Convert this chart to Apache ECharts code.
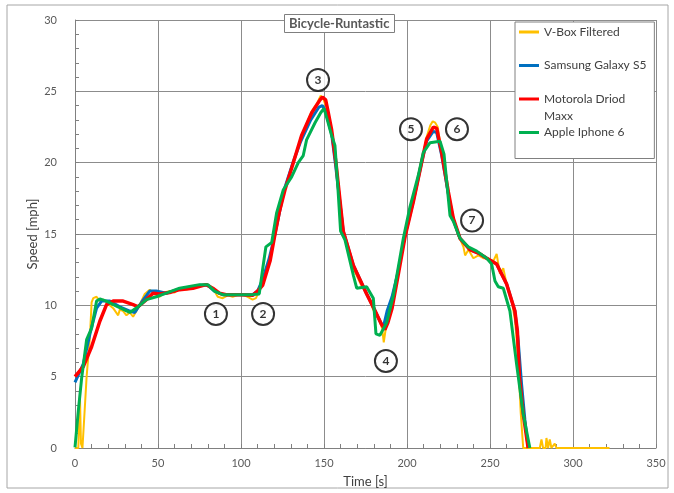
<!DOCTYPE html>
<html>
<head>
<meta charset="utf-8">
<title>Bicycle-Runtastic</title>
<script src="https://cdn.jsdelivr.net/npm/echarts@6/dist/echarts.min.js"></script>
<style>
  html, body { margin: 0; padding: 0; background: #fff; }
  #main { width: 674px; height: 493px; }
</style>
</head>
<body>
<div id="main"></div>
<script>
// time [s], speed [mph]
const vboxData = [
  [0, 0], [2, 0], [3, 3.5], [3.6, 0.3], [4.5, 0], [5.5, 2.0], [7, 5.0], [9, 7.8], [10, 10.2], [11, 10.5],
  [13, 10.6], [15, 10.3], [17, 10.4], [20, 10.1], [23, 9.8], [26, 9.3], [27, 9.7], [29, 9.6], [31, 9.3],
  [33, 9.5], [35, 9.2], [37, 9.6], [39, 10.05], [42, 10.8], [45, 11.1], [48, 10.8], [51, 10.6], [54, 10.9],
  [57, 11.0], [60, 10.9], [63, 11.2], [67, 11.1], [71, 11.2], [75, 11.4], [79, 11.5], [83, 11.2], [86, 10.6],
  [89, 10.5], [92, 10.7], [95, 10.6], [100, 10.8], [104, 10.6], [107, 10.4], [109, 10.5], [111, 11.0],
  [114, 12.0], [117, 13.2], [120.5, 15.0], [126, 18.0], [131.5, 20.0], [136.5, 21.9], [142.6, 23.6],
  [146, 24.2], [148, 24.7], [149.5, 24.5], [151, 24.0], [153, 23.3], [155, 22.0], [157.5, 19.8],
  [161.6, 15.3], [165, 13.5], [168, 12.5], [172, 11.5], [176, 10.8], [180, 9.6], [183, 9.0], [185, 8.4],
  [186, 7.4], [187, 8.2], [189, 9.4], [191, 10.6], [194.5, 12.4], [198.8, 14.8], [203.8, 17.3],
  [208.8, 20.0], [211.8, 21.8], [214, 22.6], [215.5, 22.9], [217, 22.8], [218.5, 22.5], [221, 20.6],
  [224.9, 17.9], [227.9, 16.0], [231, 14.9], [234, 14.1], [235, 13.5], [237, 13.9], [240, 13.3],
  [243, 13.5], [246, 13.3], [249, 13.3], [252, 13.1], [254, 13.6], [256, 12.2], [258, 12.6], [260, 11.5],
  [263, 10.4], [265, 9.0], [266.5, 7.0], [267.5, 5.0], [268.5, 2.5], [270, 0], [280, 0], [281, 0.6],
  [282, 0], [283.5, 0], [284, 0.7], [285, 0], [286, 0.6], [287, 0], [289, 0.3], [290, 0], [322, 0]
]

const samsungData = [
  [0, 4.6], [5, 5.9], [9, 8.0], [13, 9.8], [16, 10.3], [21, 10.3], [27, 9.9], [33, 9.6], [36, 9.5],
  [40, 10.2], [45, 11.0], [49, 11.0], [55, 10.85], [63, 11.15], [75, 11.4], [80, 11.4], [84, 11.0],
  [89, 10.75], [107, 10.75], [110, 11.0], [113, 11.8], [117, 13.3], [120.5, 15.0], [126, 18.1],
  [131, 19.9], [136, 21.5], [142, 23.0], [147, 23.9], [149, 24.0], [151, 23.6], [154.6, 22.0],
  [157, 19.8], [161.6, 15.2], [167.7, 12.8], [175.7, 10.8], [180, 9.8], [184.5, 8.7], [186, 8.6],
  [188, 9.6], [191, 10.6], [194.5, 12.3], [198.8, 14.9], [203.8, 17.3], [208.8, 20.0], [211.8, 21.5],
  [215.9, 22.2], [217.9, 22.1], [220.9, 20.5], [224.9, 17.8], [227.9, 16.0], [231.9, 14.7], [237.9, 13.9],
  [244, 13.6], [248, 13.3], [254, 12.9], [260, 11.5], [265, 9.6], [267, 7.5], [269, 4.5], [271, 2.0], [273, 0]
]

const motorolaData = [
  [0, 5.0], [5, 5.7], [10, 7.1], [15, 8.9], [19, 10.05], [23, 10.3], [29, 10.3], [35, 10.05], [38, 9.9],
  [43, 10.4], [47, 10.85], [51, 10.8], [57, 10.9], [63, 11.1], [71, 11.2], [79, 11.45], [83, 11.2],
  [87, 10.85], [91, 10.75], [100, 10.75], [107, 10.7], [110, 11.0], [113, 11.4], [117.5, 13.1],
  [120.5, 15.0], [123, 16.5], [126.5, 18.1], [131.5, 20.0], [136.5, 21.9], [142.6, 23.5], [147.6, 24.4],
  [149, 24.6], [151, 24.4], [152.6, 23.5], [154.6, 22.3], [157.2, 20.0], [161.6, 15.2], [167.7, 12.8],
  [175.7, 10.8], [180, 9.8], [184.7, 8.65], [186.7, 8.3], [188.5, 8.8], [191, 9.8], [194.5, 12.0],
  [198.8, 14.8], [203.8, 17.25], [208.8, 20.0], [211.8, 21.65], [215.9, 22.5], [217.9, 22.4],
  [220.9, 20.7], [224.9, 17.95], [227.9, 16.1], [231.9, 14.7], [237.9, 13.9], [244, 13.6], [248, 13.3],
  [254, 12.9], [260, 11.5], [265, 9.6], [266.5, 8.2], [267.7, 5.0], [270, 2.4], [273, 0]
]

const appleData = [
  [0, 0.05], [2, 2.6], [4, 4.9], [7, 7.6], [10, 8.4], [13, 10.3], [15, 10.45], [19, 10.3], [25, 9.95],
  [33, 9.5], [38, 9.9], [43, 10.4], [49, 10.6], [55, 10.85], [63, 11.2], [75, 11.45], [80, 11.45],
  [84, 11.0], [89, 10.75], [107, 10.75], [111, 10.8], [113, 12.5], [115, 14.1], [118.5, 14.4],
  [121.5, 16.5], [125.5, 18.1], [130.5, 19.0], [134.5, 20.0], [137.5, 20.5], [139.5, 21.6], [144.6, 22.8],
  [148, 23.5], [150, 23.8], [152, 23.0], [154.6, 21.9], [156.6, 21.2], [158.5, 18.0], [160, 15.2],
  [162.6, 14.6], [167.7, 12.1], [169.7, 11.2], [175.7, 11.3], [179.7, 10.5], [181.3, 8.0], [183.7, 7.9],
  [185.5, 8.3], [187.8, 8.8], [191.8, 10.7], [197.8, 14.7], [201.8, 16.9], [206.8, 19.1], [209.8, 20.7],
  [213.9, 21.4], [219.9, 21.5], [222.3, 20.6], [225.9, 16.3], [227.9, 15.9], [231.9, 14.7], [236.9, 14.1],
  [242, 13.8], [248, 13.3], [251, 12.9], [253, 11.7], [255, 11.3], [258, 11.2], [262, 9.6], [266, 5.9],
  [270, 2.4], [274, 0]
]

// circled markers: time, speed, label
const markers = [
  [84.9, 9.4, '1'], [113.3, 9.4, '2'], [146.4, 25.8, '3'], [187.3, 6.1, '4'],
  [202.4, 22.35, '5'], [230.1, 22.35, '6'], [239.2, 15.95, '7']
]

const seriesNames = ['V-Box Filtered', 'Samsung Galaxy S5', 'Motorola Driod Maxx', 'Apple Iphone 6']

const font = 'Lato'
const chart = echarts.init(document.getElementById('main'))

function lineSeries(name, data, color, width) {
  return {
    name: name,
    type: 'line',
    data: data,
    symbol: 'none',
    animation: false,
    lineStyle: { color: color, width: width },
    itemStyle: { color: color }
  }
}

const option = {
  backgroundColor: '#fff',
  animation: false,
  title: {
    text: 'Bicycle-Runtastic',
    left: 284,
    top: 14,
    padding: [3, 5],
    borderColor: '#7f7f7f',
    borderWidth: 1,
    backgroundColor: '#fff',
    textStyle: { fontFamily: font, fontSize: 13, fontWeight: 'bold', color: '#595959' }
  },
  legend: {
    orient: 'vertical',
    left: 515,
    top: 22,
    padding: [4, 8, 20, 4],
    icon: 'rect',
    itemWidth: 20,
    itemHeight: 3,
    itemGap: 21.5,
    borderColor: '#808080',
    borderWidth: 1,
    backgroundColor: '#fff',
    data: seriesNames,
    formatter: function(name) {
      return name === 'Motorola Driod Maxx' ? 'Motorola Driod' : name
    },
    textStyle: { fontFamily: font, fontSize: 12, color: '#404040' }
  },
  graphic: [
    {
      // chart area border
      type: 'rect',
      shape: { x: 7, y: 5, width: 661, height: 483 },
      style: { fill: 'none', stroke: '#a6a6a6', lineWidth: 1 },
      silent: true
    },
    {
      // second line of the wrapped legend entry
      type: 'text',
      left: 544,
      top: 110,
      z: 100,
      style: { text: 'Maxx', font: '12px Lato', fill: '#404040' }
    }
  ],
  grid: { left: 75, right: 18, top: 20, bottom: 42 },
  xAxis: {
    type: 'value',
    min: 0,
    max: 350,
    interval: 50,
    name: 'Time [s]',
    nameLocation: 'middle',
    nameGap: 27,
    nameTextStyle: { fontFamily: font, fontSize: 13, color: '#404040' },
    axisLine: { lineStyle: { color: '#808080' } },
    axisTick: { show: true, inside: true, length: 4, lineStyle: { color: '#808080' } },
    minorTick: { show: true, splitNumber: 5, length: 4, lineStyle: { color: '#808080' } },
    axisLabel: { fontFamily: font, fontSize: 11, color: '#595959', margin: 10 },
    splitLine: { show: true, lineStyle: { color: '#8c8c8c', width: 1 } }
  },
  yAxis: {
    type: 'value',
    min: 0,
    max: 30,
    interval: 5,
    name: 'Speed [mph]',
    nameLocation: 'middle',
    nameGap: 36,
    nameMoveOverlap: false,
    nameTextStyle: { fontFamily: font, fontSize: 13, color: '#404040' },
    axisLine: { show: true, lineStyle: { color: '#808080' } },
    axisTick: { show: true, inside: true, length: 4, lineStyle: { color: '#808080' } },
    minorTick: { show: true, splitNumber: 5, length: 4, lineStyle: { color: '#808080' } },
    axisLabel: { fontFamily: font, fontSize: 11, color: '#595959', margin: 18 },
    splitLine: { show: true, lineStyle: { color: '#8c8c8c', width: 1 } }
  },
  series: [
    lineSeries(seriesNames[0], vboxData, '#FFC000', 2),
    lineSeries(seriesNames[1], samsungData, '#0070C0', 3),
    lineSeries(seriesNames[2], motorolaData, '#FF0000', 3.5),
    lineSeries(seriesNames[3], appleData, '#00B050', 3),
    {
      name: 'markers',
      type: 'scatter',
      data: markers,
      symbol: 'circle',
      symbolSize: 22,
      z: 10,
      itemStyle: { color: '#fff', borderColor: '#000', borderWidth: 2 },
      label: {
        show: true,
        position: 'inside',
        formatter: p => p.value[2],
        fontFamily: font,
        fontSize: 12,
        fontWeight: 'bold',
        color: '#000'
      }
    }
  ]
}

chart.setOption(option)
</script>
</body>
</html>
